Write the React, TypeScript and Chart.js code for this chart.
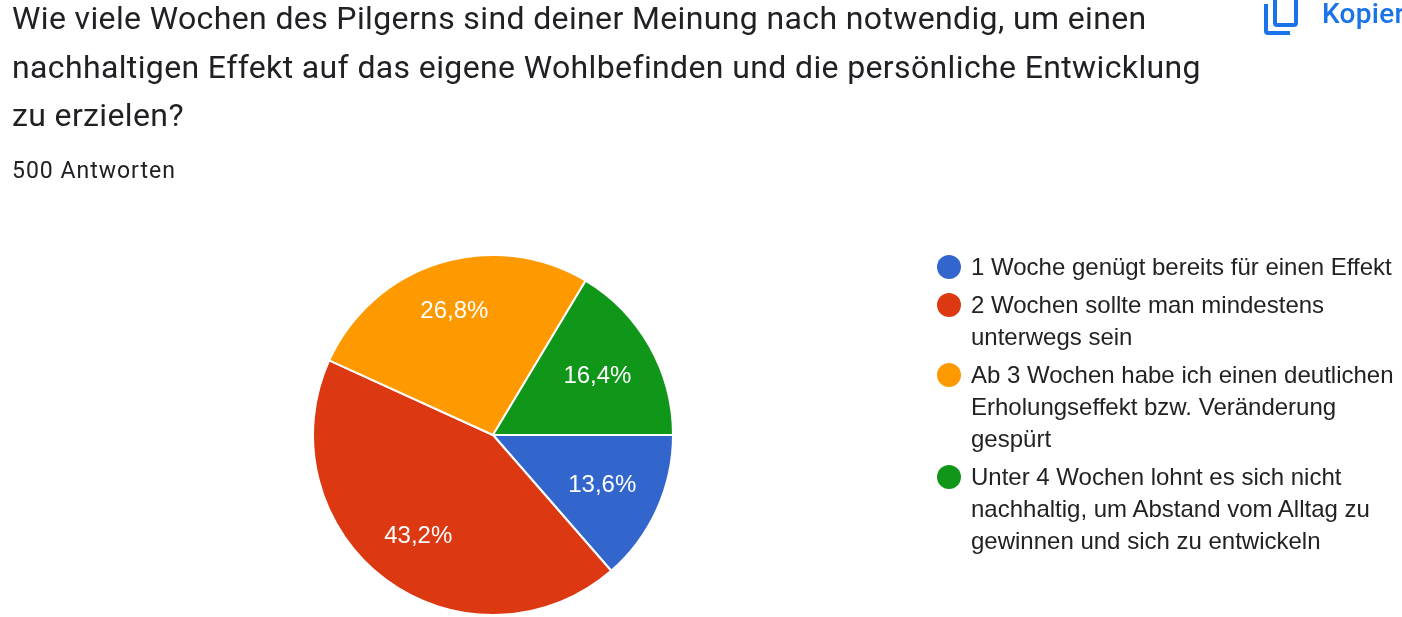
import React, { useEffect, useRef } from "react";
import { Chart, registerables } from "chart.js";

Chart.register(...registerables);

const titleLines = [
  "Wie viele Wochen des Pilgerns sind deiner Meinung nach notwendig, um einen",
  "nachhaltigen Effekt auf das eigene Wohlbefinden und die persönliche Entwicklung",
  "zu erzielen?",
];
const subtitle = "500 Antworten";
const copyLabel = "Kopieren";
const categories = [
  ["1 Woche genügt bereits für einen Effekt"],
  ["2 Wochen sollte man mindestens", "unterwegs sein"],
  ["Ab 3 Wochen habe ich einen deutlichen", "Erholungseffekt bzw. Veränderung", "gespürt"],
  ["Unter 4 Wochen lohnt es sich nicht", "nachhaltig, um Abstand vom Alltag zu", "gewinnen und sich zu entwickeln"],
];
const values = [13.6, 43.2, 26.8, 16.4];
const colors = ["#3366cc", "#dc3912", "#ff9900", "#109618"];
const legendTops = [251, 289, 359, 461];
const labelRadii = [120, 125, 130, 120];

const sliceLabels = {
  id: "sliceLabels",
  afterDatasetsDraw(chart: any) {
    const { ctx } = chart;
    const meta = chart.getDatasetMeta(0);
    ctx.save();
    ctx.font = '24px "Liberation Sans"';
    ctx.fillStyle = "#ffffff";
    ctx.textAlign = "center";
    ctx.textBaseline = "middle";
    meta.data.forEach((arc: any, i: number) => {
      const mid = (arc.startAngle + arc.endAngle) / 2;
      const r = labelRadii[i];
      const text = values[i].toFixed(1).replace(".", ",") + "%";
      ctx.fillText(text, arc.x + Math.cos(mid) * r, arc.y + Math.sin(mid) * r + 1);
    });
    ctx.restore();
  },
};

export default function App() {
  const ref = useRef<HTMLCanvasElement>(null);
  useEffect(() => {
    document.body.style.margin = "0";
    document.body.style.overflow = "hidden";
    const chart = new Chart(ref.current!, {
      type: "pie",
      data: {
        labels: categories.map((c) => c.join(" ")),
        datasets: [
          {
            data: values,
            backgroundColor: colors,
            borderColor: "#ffffff",
            borderWidth: 2,
            hoverBorderWidth: 2,
          },
        ],
      },
      options: {
        animation: false,
        responsive: false,
        rotation: 90,
        layout: { padding: { left: 312, right: 728, top: 254, bottom: 1 } },
        plugins: { legend: { display: false }, tooltip: { enabled: false } },
      },
      plugins: [sliceLabels],
    });
    return () => chart.destroy();
  }, []);

  return (
    <div style={{ position: "absolute", left: 0, top: 0, width: 1402, height: 617, overflow: "hidden", background: "#fff" }}>
      <canvas ref={ref} width={1402} height={617} style={{ position: "absolute", left: 0, top: 0, width: 1402, height: 617 }} />
      {titleLines.map((t, i) => (
        <div
          key={i}
          style={{
            position: "absolute",
            left: 12,
            top: -6 + i * 48.5,
            lineHeight: "48px",
            fontFamily: "Roboto",
            fontSize: 32,
            color: "#202124",
            whiteSpace: "nowrap",
            letterSpacing: 0.37,
          }}
        >
          {t}
        </div>
      ))}
      <div style={{ position: "absolute", left: 12, top: 156, lineHeight: "30px", fontFamily: "Roboto", fontSize: 23, color: "#202124", letterSpacing: 1, whiteSpace: "nowrap" }}>
        {subtitle}
      </div>
      <svg style={{ position: "absolute", left: 1263, top: 0 }} width={38} height={36} viewBox="0 0 38 36" fill="none" stroke="#1a73e8" strokeWidth={4}>
        <path d="M12 -4 V23 a2 2 0 0 0 2 2 H31 a2 2 0 0 0 2 -2 V-4" />
        <path d="M3 4 V31 a2 2 0 0 0 2 2 H27" />
      </svg>
      <div style={{ position: "absolute", left: 1322, top: -1, lineHeight: "30px", fontFamily: "Roboto", fontSize: 28, fontWeight: 500, color: "#1a73e8", letterSpacing: 0.3, whiteSpace: "nowrap" }}>
        {copyLabel}
      </div>
      {categories.map((lines, i) => (
        <div key={i} style={{ position: "absolute", left: 937, top: legendTops[i] }}>
          <div style={{ position: "absolute", left: 0, top: 4, width: 24, height: 24, borderRadius: 12, background: colors[i] }} />
          {lines.map((l, j) => (
            <div key={j} style={{ position: "absolute", left: 34, top: j * 32, lineHeight: "32px", fontFamily: '"Liberation Sans"', fontSize: 24, color: "#222222", whiteSpace: "nowrap" }}>
              {l}
            </div>
          ))}
        </div>
      ))}
    </div>
  );
}
